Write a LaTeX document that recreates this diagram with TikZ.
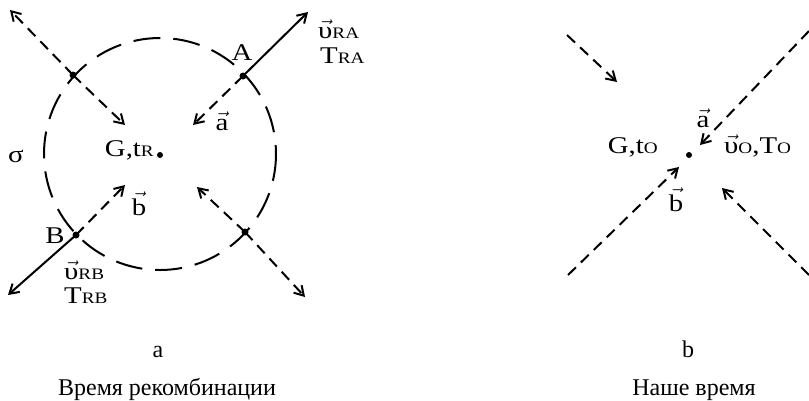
\documentclass[tikz,border=0pt]{standalone}
\usepackage{fontspec}
\setmainfont{Liberation Serif}
\newfontfamily\lblfont{Liberation Serif}[FakeStretch=1.2]
\usetikzlibrary{arrows.meta}
\newcommand{\lowcap}[1]{{\fontsize{16}{18}\selectfont #1}}
\newcommand{\arrvec}[1]{$\vec{\mbox{#1}}$}
\newcommand{\velo}{\arrvec{υ}}
\begin{document}
\begin{tikzpicture}[x=1pt,y=-1pt,
    flow/.style={line width=2pt, dash pattern=on 11pt off 7pt, -{Straight Barb[length=9pt,width=11pt]}},
    escape/.style={line width=2pt, -{Straight Barb[length=9pt,width=11pt]}},
    sphere/.style={line width=2pt, dash pattern=on 27pt off 13pt},
    spot/.style={circle, fill, inner sep=0pt, minimum size=7pt},
    lbl/.style={font=\lblfont\fontsize{24}{28}\selectfont, inner sep=0pt},
    capt/.style={font=\fontsize{24}{28}\selectfont, inner sep=0pt}]
    \useasboundingbox (0,0) rectangle (809,400);
    % a: recombination time
    \coordinate (O1) at (160,154);
    \coordinate (A) at (243,76);
    \coordinate (B) at (76,235);
    \coordinate (P) at (73,75);
    \coordinate (Q) at (245,232);
    \coordinate (Aout) at (308,12);
    \coordinate (Ain) at (193,125);
    \coordinate (Bout) at (8,295);
    \coordinate (Bin) at (125,185);
    \coordinate (Pout) at (10,10);
    \coordinate (Pin) at (125,125);
    \coordinate (Qout) at (305,297);
    \coordinate (Qin) at (197,187);
    \draw[sphere] (O1) circle[radius=116];
    \foreach \p in {A,B,P,Q}
    \node[spot] (dot\p) at (\p) {};
    \node[spot, minimum size=6pt] (G1) at (160,155) {};
    \draw[escape] (A) -- (Aout);
    \draw[escape] (B) -- (Bout);
    \foreach \p in {A,B,P,Q}
    \draw[flow] (\p) -- (\p in);
    \foreach \p in {P,Q}
    \draw[flow] (\p) -- (\p out);
    \node[lbl, anchor=base east] (GtR) at (154,156) {G,t\lowcap{R}};
    \node[lbl, anchor=base] (lblA) at (242,60) {A};
    \node[lbl, anchor=base] (lblB) at (55,243) {B};
    \node[lbl, anchor=base] (sigma) at (16,162) {σ};
    \node[lbl, anchor=base] (vecA1) at (222,130) {\arrvec{a}};
    \node[lbl, anchor=base] (vecB1) at (139,215) {\arrvec{b}};
    \node[lbl, anchor=base west] (vRA) at (318,38) {\velo\lowcap{RA}};
    \node[lbl, anchor=base west] (TRA) at (320,63) {T\lowcap{RA}};
    \node[lbl, anchor=base west] (vRB) at (64,279) {\velo\lowcap{RB}};
    \node[lbl, anchor=base west] (TRB) at (64,303) {T\lowcap{RB}};
    % b: our time
    \coordinate (G2) at (689,155);
    \coordinate (TLout) at (567,35);
    \coordinate (TLin) at (617,82);
    \coordinate (TRout) at (809,31);
    \coordinate (TRin) at (700,145);
    \coordinate (BLout) at (568,275);
    \coordinate (BLin) at (679,167);
    \coordinate (BRout) at (809,275);
    \coordinate (BRin) at (722,188);
    \node[spot, minimum size=6pt] (dotG2) at (G2) {};
    \foreach \p in {TL,TR,BL,BR}
    \draw[flow] (\p out) -- (\p in);
    \node[lbl, anchor=base east] (GtO) at (658,153) {G,t\lowcap{O}};
    \node[lbl, anchor=base west] (vTO) at (724,153) {\velo\lowcap{O},T\lowcap{O}};
    \node[lbl, anchor=base] (vecA2) at (703,127) {\arrvec{a}};
    \node[lbl, anchor=base] (vecB2) at (676,211) {\arrvec{b}};
    % captions
    \node[capt, anchor=base] (capa) at (158,357) {a};
    \node[capt, anchor=base] (capb) at (688,357) {b};
    \node[capt, anchor=base] (texta) at (167,395) {Время рекомбинации};
    \node[capt, anchor=base] (textb) at (694,395) {Наше время};
\end{tikzpicture}
\end{document}
